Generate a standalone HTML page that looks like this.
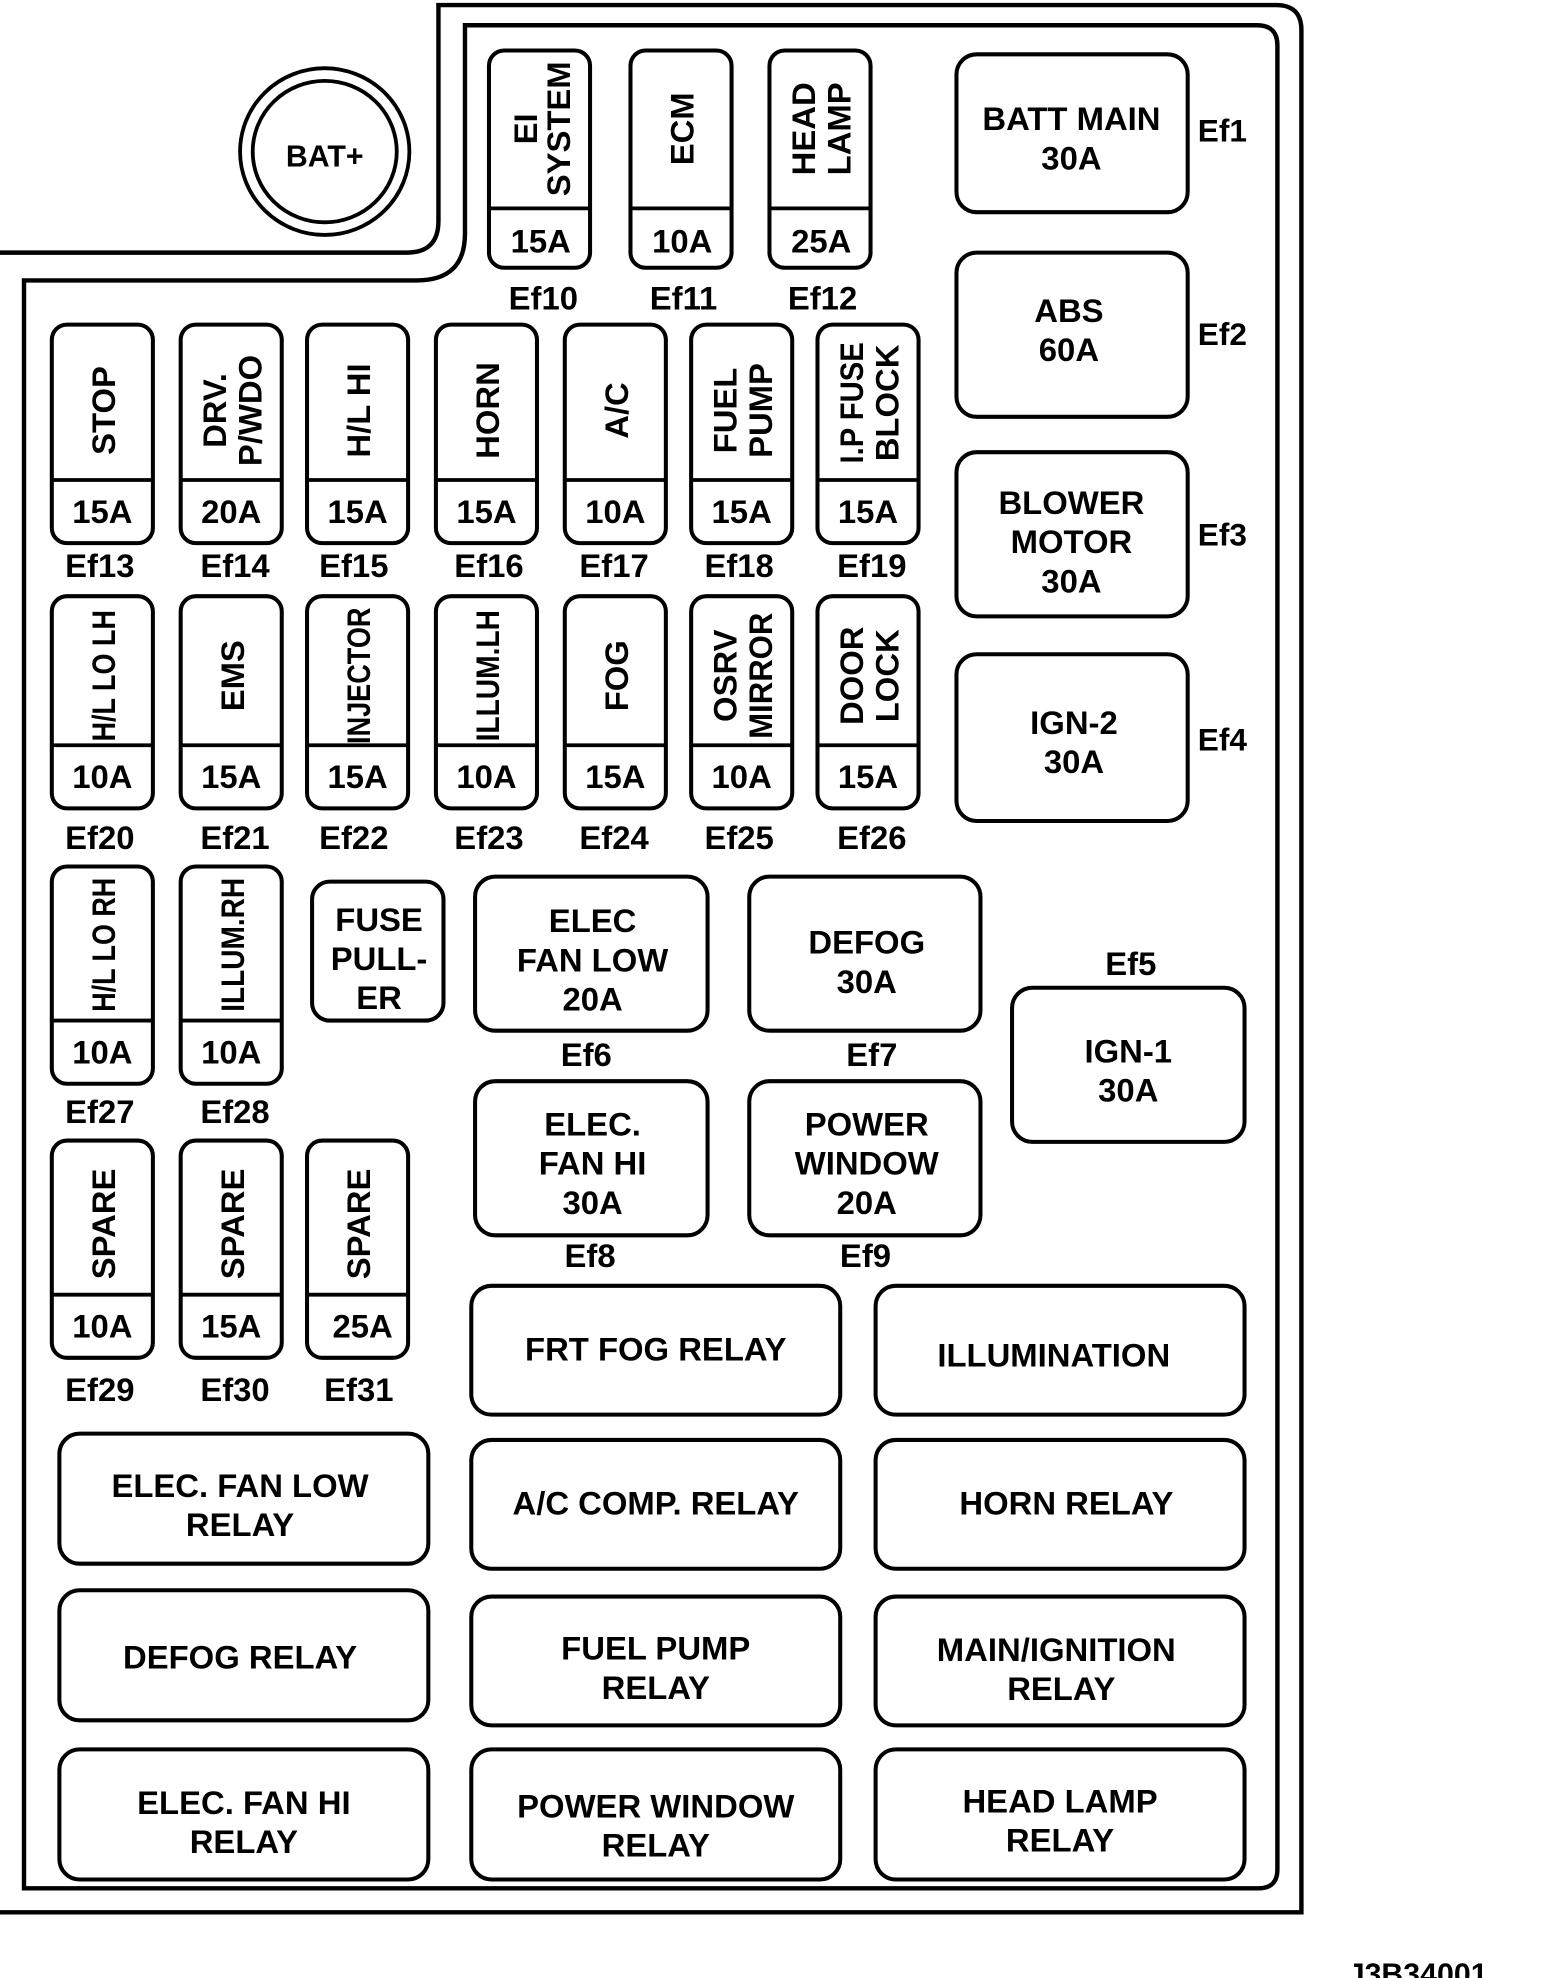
<!DOCTYPE html>
<html><head><meta charset="utf-8"><style>
html,body{margin:0;padding:0;background:#fff;}
svg{display:block}
text{font-family:"Liberation Sans",Arial,sans-serif;font-weight:bold;font-size:26px;fill:#000;text-anchor:middle}
.f rect,.b rect{fill:#fff;stroke:#000;stroke-width:3.2}
line{stroke:#000;stroke-width:3}
</style></head><body>
<svg width="1568" height="1978" viewBox="0 0 1241 1566" preserveAspectRatio="none">
<path d="M0,200 H322 Q347,200 347,175 V4 H1010 Q1030,4 1030,24 V1514 H0" fill="none" stroke="#000" stroke-width="3.5"/>
<path d="M19,1495 V222 H330 Q368,222 368,185 V20 H995 Q1011,20 1011,36 V1480 Q1011,1495 996,1495 Z" fill="none" stroke="#000" stroke-width="3.5"/>
<ellipse cx="257" cy="120" rx="67" ry="66" fill="none" stroke="#000" stroke-width="3"/>
<ellipse cx="257" cy="120" rx="57" ry="56" fill="none" stroke="#000" stroke-width="3"/>
<text x="257" y="132" style="font-size:24px">BAT+</text>

<!-- top fuses -->
<g class="f" transform="translate(387,40)"><rect width="80" height="172" rx="12"/><line x1="0" y1="125" x2="80" y2="125"/><text x="41" y="160">15A</text><text transform="translate(38,62) rotate(-90)">EI</text><text transform="translate(64,62) rotate(-90)">SYSTEM</text></g>
<g class="f" transform="translate(499,40)"><rect width="80" height="172" rx="12"/><line x1="0" y1="125" x2="80" y2="125"/><text x="41" y="160">10A</text><text transform="translate(50,62) rotate(-90)">ECM</text></g>
<g class="f" transform="translate(609,40)"><rect width="80" height="172" rx="12"/><line x1="0" y1="125" x2="80" y2="125"/><text x="41" y="160">25A</text><text transform="translate(36,62) rotate(-90)">HEAD</text><text transform="translate(64,62) rotate(-90)">LAMP</text></g>
<text x="430" y="245">Ef10</text><text x="541" y="245">Ef11</text><text x="651" y="245">Ef12</text>

<!-- row1 -->
<g class="f" transform="translate(41,257)"><rect width="80" height="173" rx="12"/><line x1="0" y1="123" x2="80" y2="123"/><text x="40" y="157">15A</text><text transform="translate(50,68) rotate(-90)">STOP</text></g>
<g class="f" transform="translate(143,257)"><rect width="80" height="173" rx="12"/><line x1="0" y1="123" x2="80" y2="123"/><text x="40" y="157">20A</text><text transform="translate(36,68) rotate(-90)">DRV.</text><text transform="translate(64,68) rotate(-90)">P/WDO</text></g>
<g class="f" transform="translate(243,257)"><rect width="80" height="173" rx="12"/><line x1="0" y1="123" x2="80" y2="123"/><text x="40" y="157">15A</text><text transform="translate(50,68) rotate(-90)">H/L HI</text></g>
<g class="f" transform="translate(345,257)"><rect width="80" height="173" rx="12"/><line x1="0" y1="123" x2="80" y2="123"/><text x="40" y="157">15A</text><text transform="translate(50,68) rotate(-90)">HORN</text></g>
<g class="f" transform="translate(447,257)"><rect width="80" height="173" rx="12"/><line x1="0" y1="123" x2="80" y2="123"/><text x="40" y="157">10A</text><text transform="translate(50,68) rotate(-90)">A/C</text></g>
<g class="f" transform="translate(547,257)"><rect width="80" height="173" rx="12"/><line x1="0" y1="123" x2="80" y2="123"/><text x="40" y="157">15A</text><text transform="translate(36,68) rotate(-90)">FUEL</text><text transform="translate(64,68) rotate(-90)">PUMP</text></g>
<g class="f" transform="translate(647,257)"><rect width="80" height="173" rx="12"/><line x1="0" y1="123" x2="80" y2="123"/><text x="40" y="157">15A</text><text transform="translate(36,62) rotate(-90)" textLength="96" lengthAdjust="spacingAndGlyphs">I.P FUSE</text><text transform="translate(64,62) rotate(-90)">BLOCK</text></g>
<text x="79" y="457">Ef13</text><text x="186" y="457">Ef14</text><text x="280" y="457">Ef15</text><text x="387" y="457">Ef16</text><text x="486" y="457">Ef17</text><text x="585" y="457">Ef18</text><text x="690" y="457">Ef19</text>

<!-- row2 -->
<g class="f" transform="translate(41,472)"><rect width="80" height="168" rx="12"/><line x1="0" y1="118" x2="80" y2="118"/><text x="40" y="152">10A</text><text transform="translate(50,63) rotate(-90)" textLength="104" lengthAdjust="spacingAndGlyphs">H/L LO LH</text></g>
<g class="f" transform="translate(143,472)"><rect width="80" height="168" rx="12"/><line x1="0" y1="118" x2="80" y2="118"/><text x="40" y="152">15A</text><text transform="translate(50,63) rotate(-90)">EMS</text></g>
<g class="f" transform="translate(243,472)"><rect width="80" height="168" rx="12"/><line x1="0" y1="118" x2="80" y2="118"/><text x="40" y="152">15A</text><text transform="translate(50,63) rotate(-90)" textLength="108" lengthAdjust="spacingAndGlyphs">INJECTOR</text></g>
<g class="f" transform="translate(345,472)"><rect width="80" height="168" rx="12"/><line x1="0" y1="118" x2="80" y2="118"/><text x="40" y="152">10A</text><text transform="translate(50,63) rotate(-90)" textLength="104" lengthAdjust="spacingAndGlyphs">ILLUM.LH</text></g>
<g class="f" transform="translate(447,472)"><rect width="80" height="168" rx="12"/><line x1="0" y1="118" x2="80" y2="118"/><text x="40" y="152">15A</text><text transform="translate(50,63) rotate(-90)">FOG</text></g>
<g class="f" transform="translate(547,472)"><rect width="80" height="168" rx="12"/><line x1="0" y1="118" x2="80" y2="118"/><text x="40" y="152">10A</text><text transform="translate(36,63) rotate(-90)">OSRV</text><text transform="translate(64,63) rotate(-90)" textLength="100" lengthAdjust="spacingAndGlyphs">MIRROR</text></g>
<g class="f" transform="translate(647,472)"><rect width="80" height="168" rx="12"/><line x1="0" y1="118" x2="80" y2="118"/><text x="40" y="152">15A</text><text transform="translate(36,63) rotate(-90)">DOOR</text><text transform="translate(64,63) rotate(-90)">LOCK</text></g>
<text x="79" y="672">Ef20</text><text x="186" y="672">Ef21</text><text x="280" y="672">Ef22</text><text x="387" y="672">Ef23</text><text x="486" y="672">Ef24</text><text x="585" y="672">Ef25</text><text x="690" y="672">Ef26</text>

<!-- row3 -->
<g class="f" transform="translate(41,686)"><rect width="80" height="172" rx="12"/><line x1="0" y1="122" x2="80" y2="122"/><text x="40" y="156">10A</text><text transform="translate(50,62) rotate(-90)" textLength="106" lengthAdjust="spacingAndGlyphs">H/L LO RH</text></g>
<g class="f" transform="translate(143,686)"><rect width="80" height="172" rx="12"/><line x1="0" y1="122" x2="80" y2="122"/><text x="40" y="156">10A</text><text transform="translate(50,62) rotate(-90)" textLength="106" lengthAdjust="spacingAndGlyphs">ILLUM.RH</text></g>
<text x="79" y="889">Ef27</text><text x="186" y="889">Ef28</text>
<g class="b"><rect x="247" y="698" width="104" height="110" rx="14"/></g>
<text x="300" y="737">FUSE</text><text x="300" y="768">PULL-</text><text x="300" y="799">ER</text>

<!-- row4 -->
<g class="f" transform="translate(41,903)"><rect width="80" height="172" rx="12"/><line x1="0" y1="122" x2="80" y2="122"/><text x="40" y="156">10A</text><text transform="translate(50,66) rotate(-90)">SPARE</text></g>
<g class="f" transform="translate(143,903)"><rect width="80" height="172" rx="12"/><line x1="0" y1="122" x2="80" y2="122"/><text x="40" y="156">15A</text><text transform="translate(50,66) rotate(-90)">SPARE</text></g>
<g class="f" transform="translate(243,903)"><rect width="80" height="172" rx="12"/><line x1="0" y1="122" x2="80" y2="122"/><text x="44" y="156">25A</text><text transform="translate(50,66) rotate(-90)">SPARE</text></g>
<text x="79" y="1109">Ef29</text><text x="186" y="1109">Ef30</text><text x="284" y="1109">Ef31</text>

<!-- big fuses -->
<g class="b">
<rect x="757" y="43" width="183" height="125" rx="16"/>
<rect x="757" y="200" width="183" height="130" rx="16"/>
<rect x="757" y="358" width="183" height="130" rx="16"/>
<rect x="757" y="518" width="183" height="132" rx="16"/>
<rect x="376" y="694" width="184" height="122" rx="16"/>
<rect x="593" y="694" width="183" height="122" rx="16"/>
<rect x="376" y="856" width="184" height="122" rx="16"/>
<rect x="593" y="856" width="183" height="122" rx="16"/>
<rect x="801" y="782" width="184" height="122" rx="16"/>
<rect x="373" y="1018" width="292" height="102" rx="16"/>
<rect x="693" y="1018" width="292" height="102" rx="16"/>
<rect x="47" y="1135" width="292" height="103" rx="16"/>
<rect x="373" y="1140" width="292" height="102" rx="16"/>
<rect x="693" y="1140" width="292" height="102" rx="16"/>
<rect x="47" y="1259" width="292" height="103" rx="16"/>
<rect x="373" y="1264" width="292" height="102" rx="16"/>
<rect x="693" y="1264" width="292" height="102" rx="16"/>
<rect x="47" y="1385" width="292" height="103" rx="16"/>
<rect x="373" y="1385" width="292" height="103" rx="16"/>
<rect x="693" y="1385" width="292" height="103" rx="16"/>
</g>
<text x="848" y="103">BATT MAIN</text><text x="848" y="134">30A</text><text x="948" y="112" style="text-anchor:start;font-size:25px">Ef1</text>
<text x="846" y="255">ABS</text><text x="846" y="286">60A</text><text x="948" y="273" style="text-anchor:start;font-size:25px">Ef2</text>
<text x="848" y="407">BLOWER</text><text x="848" y="438">MOTOR</text><text x="848" y="469">30A</text><text x="948" y="432" style="text-anchor:start;font-size:25px">Ef3</text>
<text x="850" y="581">IGN-2</text><text x="850" y="612">30A</text><text x="948" y="594" style="text-anchor:start;font-size:25px">Ef4</text>
<text x="469" y="738">ELEC</text><text x="469" y="769">FAN LOW</text><text x="469" y="800">20A</text><text x="464" y="844">Ef6</text>
<text x="686" y="755">DEFOG</text><text x="686" y="786">30A</text><text x="690" y="844">Ef7</text>
<text x="469" y="899">ELEC.</text><text x="469" y="930">FAN HI</text><text x="469" y="961">30A</text><text x="467" y="1003">Ef8</text>
<text x="686" y="899">POWER</text><text x="686" y="930">WINDOW</text><text x="686" y="961">20A</text><text x="685" y="1003">Ef9</text>
<text x="895" y="772">Ef5</text><text x="893" y="841">IGN-1</text><text x="893" y="872">30A</text>
<text x="519" y="1077">FRT FOG RELAY</text>
<text x="834" y="1082">ILLUMINATION</text>
<text x="190" y="1185">ELEC. FAN LOW</text><text x="190" y="1216">RELAY</text>
<text x="519" y="1199">A/C COMP. RELAY</text>
<text x="844" y="1199">HORN RELAY</text>
<text x="190" y="1321">DEFOG RELAY</text>
<text x="519" y="1314">FUEL PUMP</text><text x="519" y="1345">RELAY</text>
<text x="836" y="1315">MAIN/IGNITION</text><text x="840" y="1346">RELAY</text>
<text x="193" y="1436">ELEC. FAN HI</text><text x="193" y="1467">RELAY</text>
<text x="519" y="1439">POWER WINDOW</text><text x="519" y="1470">RELAY</text>
<text x="839" y="1435">HEAD LAMP</text><text x="839" y="1466">RELAY</text>
<text x="1122" y="1571" style="font-size:24px">J3B34001</text>
</svg>
</body></html>
